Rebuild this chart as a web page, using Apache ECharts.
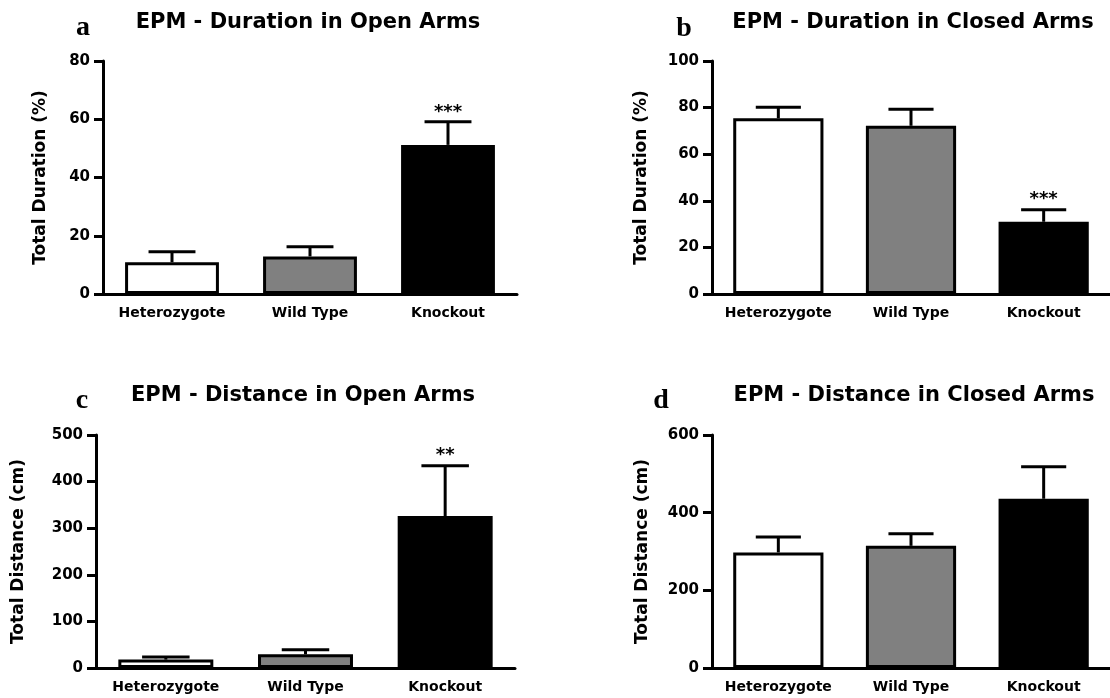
<!DOCTYPE html>
<html>
<head>
<meta charset="utf-8">
<script src="https://cdn.jsdelivr.net/npm/echarts@6/dist/echarts.min.js"></script>
<style>
html,body{margin:0;padding:0;background:#fff;}
#chart{width:1110px;height:698px;}
</style>
</head>
<body>
<div id="chart"></div>
<script>
// ---- data ----
var categories = ['Heterozygote', 'Wild Type', 'Knockout'];

var durOpenMean = [10.9, 12.9, 51.2];
var durOpenSem = [3.6, 3.3, 7.9];
var durOpenSig = ['', '', '***'];

var durClosedMean = [75.4, 72.2, 31.0];
var durClosedSem = [4.7, 7.1, 5.2];
var durClosedSig = ['', '', '***'];

var distOpenMean = [18, 29.4, 326];
var distOpenSem = [5.6, 10, 108];
var distOpenSig = ['', '', '**'];

var distClosedMean = [297.6, 314.6, 435.8];
var distClosedSem = [40, 31, 82.5];
var distClosedSig = ['', '', ''];

var panelTitles = ['EPM - Duration in Open Arms', 'EPM - Duration in Closed Arms',
                   'EPM - Distance in Open Arms', 'EPM - Distance in Closed Arms'];
var panelLetters = ['a', 'b', 'c', 'd'];
var yNames = ['Total Duration (%)', 'Total Duration (%)', 'Total Distance (cm)', 'Total Distance (cm)'];
var yMax = [80, 100, 500, 600];
var yInterval = [20, 20, 100, 200];

// ---- styles / layout ----
var FONT = '"DejaVu Sans", Verdana, sans-serif';
var fills = ['#ffffff', '#808080', '#000000'];
var grids = [
  {left: 103, top: 61, width: 414, height: 233},
  {left: 712, top: 61, width: 406, height: 233},
  {left: 96, top: 435, width: 419, height: 233},
  {left: 712, top: 435, width: 406, height: 233}
];
var nameGaps = [54, 62, 69, 61];
var titlePos = [[308, 23], [913, 23], [303, 396], [914, 396]];
var letterPos = [[83, 42], [684, 43], [82, 415], [661, 415]];

var means = [durOpenMean, durClosedMean, distOpenMean, distClosedMean];
var sems = [durOpenSem, durClosedSem, distOpenSem, distClosedSem];
var sigs = [durOpenSig, durClosedSig, distOpenSig, distClosedSig];

function errRender(sigArr) {
  return function (params, api) {
    var i = api.value(0);
    var mean = api.value(1);
    var sem = api.value(2);
    var base = api.coord([i, mean]);
    var top = api.coord([i, mean + sem]);
    var bw = api.size([1, 0])[0] * 0.68;
    var half = bw * 0.25;
    var children = [
      {type: 'line', shape: {x1: base[0], y1: base[1], x2: top[0], y2: top[1]},
       style: {stroke: '#000', lineWidth: 3}},
      {type: 'line', shape: {x1: top[0] - half, y1: top[1], x2: top[0] + half, y2: top[1]},
       style: {stroke: '#000', lineWidth: 3}}
    ];
    var s = sigArr[i];
    if (s) {
      children.push({type: 'text', x: top[0], y: top[1] - 10,
        style: {text: s, font: 'bold 18px ' + FONT, fill: '#000',
                align: 'center', verticalAlign: 'middle',
                textAlign: 'center', textVerticalAlign: 'middle'}});
    }
    return {type: 'group', children: children};
  };
}

var xAxes = [], yAxes = [], series = [], graphics = [];
for (var p = 0; p < 4; p++) {
  xAxes.push({
    gridIndex: p, type: 'category', data: categories,
    axisLine: {lineStyle: {color: '#000', width: 3}},
    axisTick: {alignWithLabel: true, length: 8, lineStyle: {color: '#000', width: 3}},
    axisLabel: {interval: 0, color: '#000', fontFamily: FONT, fontWeight: 'bold', fontSize: 14, margin: 12},
    splitLine: {show: false}
  });
  yAxes.push({
    gridIndex: p, type: 'value', min: 0, max: yMax[p], interval: yInterval[p],
    axisLine: {show: true, lineStyle: {color: '#000', width: 3}},
    axisTick: {show: true, length: 9, lineStyle: {color: '#000', width: 3}},
    axisLabel: {color: '#000', fontFamily: FONT, fontWeight: 'bold', fontSize: 15, margin: 13},
    splitLine: {show: false},
    name: yNames[p], nameLocation: 'middle', nameRotate: 90, nameGap: nameGaps[p],
    nameTextStyle: {color: '#000', fontFamily: FONT, fontWeight: 'bold', fontSize: 17}
  });
  series.push({
    type: 'bar', xAxisIndex: p, yAxisIndex: p, barWidth: '68%',
    data: means[p].map(function (v, i) {
      return {value: v, itemStyle: {color: fills[i], borderColor: '#000', borderWidth: 3}};
    }),
    silent: true, animation: false
  });
  series.push({
    type: 'custom', xAxisIndex: p, yAxisIndex: p,
    encode: {x: 0, y: 1},
    data: means[p].map(function (v, i) { return [i, v, sems[p][i]]; }),
    renderItem: errRender(sigs[p]),
    z: 5, silent: true, animation: false
  });
  graphics.push({
    type: 'text', x: titlePos[p][0], y: titlePos[p][1],
    style: {text: panelTitles[p], font: 'bold 21px ' + FONT, fill: '#000',
            align: 'center', verticalAlign: 'middle', textAlign: 'center', textVerticalAlign: 'middle'}
  });
  graphics.push({
    type: 'text', x: letterPos[p][0], y: letterPos[p][1],
    style: {text: panelLetters[p], font: 'bold 28px "Liberation Serif", serif', fill: '#000',
            align: 'center', verticalAlign: 'bottom', textAlign: 'center', textVerticalAlign: 'bottom'}
  });
}

var chart = echarts.init(document.getElementById('chart'), null, {renderer: 'canvas'});
chart.setOption({
  backgroundColor: '#fff',
  animation: false,
  grid: grids,
  xAxis: xAxes,
  yAxis: yAxes,
  series: series,
  graphic: {elements: graphics}
});
</script>
</body>
</html>
